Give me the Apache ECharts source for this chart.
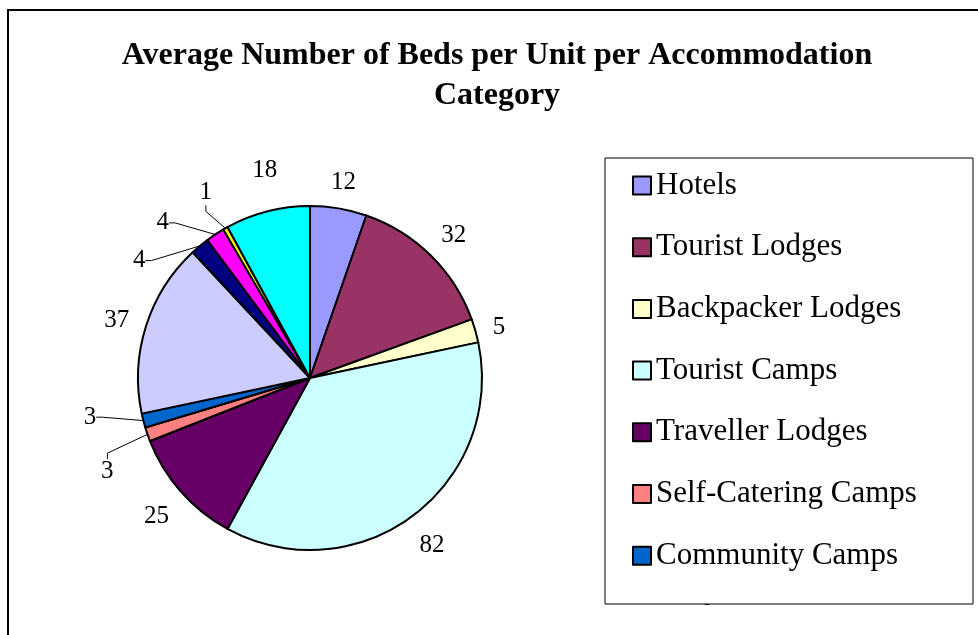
<!DOCTYPE html>
<html>
<head>
<meta charset="utf-8" />
<title>Average Number of Beds per Unit per Accommodation Category</title>
<script src="https://cdn.jsdelivr.net/npm/echarts@6/dist/echarts.min.js"></script>
<style>
	html, body { margin: 0; padding: 0; background: #fff; }
	#chart { width: 978px; height: 635px; }
</style>
</head>
<body>
<div id="chart"></div>
<script>
// categories, clockwise from 12 o'clock
var categories = ['Hotels', 'Tourist Lodges', 'Backpacker Lodges', 'Tourist Camps',
	'Traveller Lodges', 'Self-Catering Camps', 'Community Camps', 'Bush Camps',
	'Guest Houses', 'Guest Farms', 'Hunting Camps', 'Rest Camps'];
var beds = [12, 32, 5, 82, 25, 3, 3, 37, 4, 4, 1, 18];
var colors = ['#9999FF', '#993366', '#FFFFCC', '#CCFFFF', '#660066', '#FF8080',
	'#0066CC', '#CCCCFF', '#000080', '#FF00FF', '#FFFF00', '#00FFFF'];

var serif = '"Liberation Serif", "Times New Roman", serif';
var pieCenter = [310, 378];
var pieRadius = 172;

// mid angle of each slice (deg, clockwise from 12 o'clock)
var total = beds.reduce(function(a, b) { return a + b; }, 0);
var midAngles = [];
var acc = 0;
for (var i = 0; i < beds.length; i++) {
	midAngles.push((acc + beds[i] / 2) / total * 360);
	acc += beds[i];
}

// labels pulled apart by hand, like the original (angle shift, distance)
var nudge = {
	5: { da: -5, dist: 222 },
	6: { da: 5, dist: 223 },
	8: { da: -15, dist: 209 },
	9: { da: -9.5, dist: 216 },
	10: { da: 0.5, dist: 215 },
	11: { da: 2.2, dist: 215 }
};

var chart = echarts.init(document.getElementById('chart'));

var pieData = categories.map(function(name, i) {
	var item = { name: name, value: beds[i], itemStyle: { color: colors[i] } };
	if (nudge[i] && beds[i] <= 4) {
		item.labelLine = { show: true };
	}
	return item;
});

var option = {
	animation: false,
	backgroundColor: '#fff',
	title: {
		text: 'Average Number of Beds per Unit per Accommodation\nCategory',
		left: 492,
		top: 31,
		textAlign: 'center',
		textStyle: {
			fontFamily: serif,
			fontWeight: 'bold',
			fontSize: 32,
			lineHeight: 40,
			color: '#000'
		}
	},
	legend: {
		orient: 'vertical',
		left: 632,
		top: 170,
		height: 1000,
		padding: 0,
		itemWidth: 18,
		itemHeight: 18,
		itemGap: 30.7,
		icon: 'rect',
		selectedMode: false,
		data: categories,
		itemStyle: { borderColor: '#000', borderWidth: 2 },
		textStyle: {
			fontFamily: serif,
			fontSize: 31,
			lineHeight: 31,
			color: '#000',
			padding: [0, 0, 0, 0]
		}
	},
	graphic: [
		{ // outer chart frame
			type: 'rect',
			shape: { x: 8, y: 10, width: 1000, height: 700 },
			style: { fill: null, stroke: '#000', lineWidth: 2 },
			z: 1
		},
		{ // hides what falls below the legend box
			type: 'rect',
			shape: { x: 600, y: 605, width: 380, height: 40 },
			style: { fill: '#fff' },
			z: 100
		},
		{ // legend box
			type: 'rect',
			shape: { x: 605, y: 158, width: 368, height: 446 },
			style: { fill: null, stroke: '#000', lineWidth: 1 },
			z: 101
		}
	],
	series: [{
		type: 'pie',
		center: pieCenter,
		radius: pieRadius,
		startAngle: 90,
		clockwise: true,
		avoidLabelOverlap: false,
		data: pieData,
		itemStyle: { borderColor: '#000', borderWidth: 2 },
		label: {
			show: true,
			position: 'outside',
			formatter: '{c}',
			fontFamily: serif,
			fontSize: 25,
			color: '#000'
		},
		labelLine: {
			show: false,
			length: 12,
			length2: 6,
			lineStyle: { color: '#000', width: 1 }
		},
		labelLayout: function(params) {
			var i = params.dataIndex;
			var n = nudge[i];
			var ang = (midAngles[i] + (n ? n.da : 0)) * Math.PI / 180;
			var ux = Math.sin(ang), uy = -Math.cos(ang);
			var w = params.labelRect.width, h = params.labelRect.height;
			var d = n ? n.dist : pieRadius + 15 + Math.abs(ux) * w / 2 + Math.abs(uy) * h / 2;
			return {
				x: pieCenter[0] + ux * d,
				y: pieCenter[1] + uy * d + 3,
				align: 'center',
				verticalAlign: 'middle'
			};
		},
		emphasis: { disabled: true }
	}]
};

chart.setOption(option);
</script>
</body>
</html>
